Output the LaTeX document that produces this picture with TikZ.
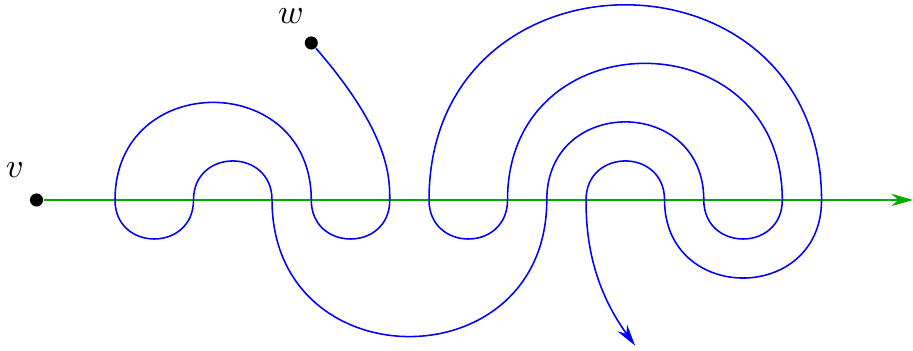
\documentclass[tikz,border=0pt]{standalone}
\usepackage{amsmath}
\usepackage{tikz}
\usetikzlibrary{arrows.meta, positioning}

\begin{document}
\begin{tikzpicture}[
	x=0.4cm, y=0.4cm,
	% Styles
	point/.style={circle, fill=black, inner sep=0pt, minimum size=3.8pt},
	etiquette/.style={inner sep=0pt},
	axe/.style={draw=green!67!black, line width=0.5pt, -{Stealth[length=6.3pt, width=3.6pt]}},
	courbe/.style={draw=blue, line width=0.45pt},
	haut/.style={out=90, in=90, looseness=1.7},
	bas/.style={out=-90, in=-90, looseness=1.7},
	]
	
	\useasboundingbox (-2.93,-3.846) rectangle (20.33,5.094);
	
	% Points
	\node[point] (v) at (-2,0) {};
	\node[point] (w) at (5,4) {};
	\node[etiquette] (vlab) at (-2.55,0.76) {$v$};
	\node[etiquette] (wlab) at (4.48,4.69) {$w$};
	
	% Axe
	\coordinate (xfin) at (20.33,0);
	\draw[axe] (v) -- (xfin);
	
	% Croisements
	\coordinate (c0) at (0,0);
	\coordinate (c2) at (2,0);
	\coordinate (c4) at (4,0);
	\coordinate (c5) at (5,0);
	\coordinate (c7) at (7,0);
	\coordinate (c8) at (8,0);
	\coordinate (c10) at (10,0);
	\coordinate (c11) at (11,0);
	\coordinate (c12) at (12,0);
	\coordinate (c14) at (14,0);
	\coordinate (c15) at (15,0);
	\coordinate (c17) at (17,0);
	\coordinate (c18) at (18,0);
	\coordinate (fin) at (13.25,-3.71);
	
	% Courbe
	\draw[courbe, -{Stealth[length=6.3pt, width=3.4pt]}] (w)
		to[out=-49, in=90, out looseness=1.7, in looseness=0.35] (c7)
		to[bas] (c5)
		to[haut] (c0)
		to[bas] (c2)
		to[haut] (c4)
		to[bas] (c11)
		to[haut] (c15)
		to[bas] (c17)
		to[haut] (c10)
		to[bas] (c8)
		to[haut] (c18)
		to[bas] (c14)
		to[haut] (c12)
		to[out=-90, in=126, out looseness=0.5, in looseness=1.3] (fin);
	
\end{tikzpicture}
\end{document}
